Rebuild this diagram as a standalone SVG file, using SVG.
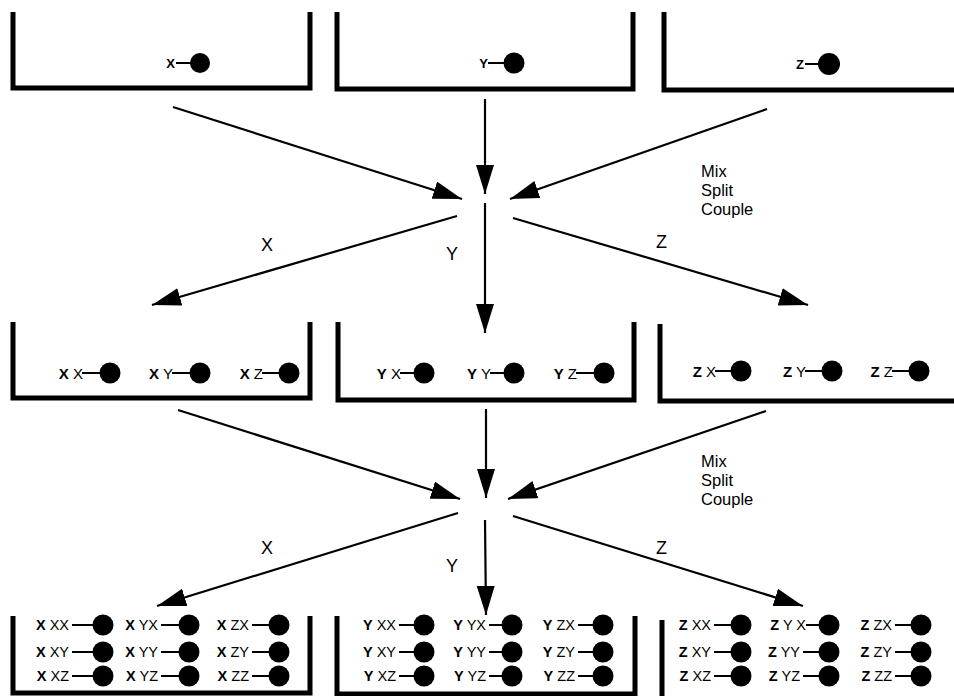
<svg xmlns="http://www.w3.org/2000/svg" width="954" height="696" viewBox="0 0 954 696">
  <defs>
    <marker id="head" markerUnits="userSpaceOnUse" markerWidth="32" markerHeight="20" refX="29" refY="9" orient="auto">
      <path d="M0,0 L29,9 L0,18 z" fill="#000"/>
    </marker>
    <style>
      .wall { fill: none; stroke: #000; stroke-width: 5; stroke-linejoin: miter; }
      .flow { stroke: #000; stroke-width: 2.2; fill: none; marker-end: url(#head); }
      .stem { stroke: #000; stroke-width: 2; }
      .bead { fill: #000; }
      .lbl { font-family: "Liberation Sans", Arial, sans-serif; fill: #000; }
      .t1 { font-size: 13px; font-weight: bold; }
      .t2 { font-size: 15px; }
      .t3 { font-size: 14.5px; }
      .b { font-weight: bold; }
      .step { font-size: 18px; }
      .note { font-size: 16.5px; }
    </style>
  </defs>

  <!-- stage 1: single-monomer pools -->
  <g id="pool-x">
    <path class="wall" d="M13,12 V88 H310 V12"/>
    <text class="lbl t1" x="175" y="68" text-anchor="end">X</text>
    <line class="stem" x1="176" y1="63" x2="192" y2="63"/>
    <circle class="bead" cx="200" cy="63" r="10"/>
  </g>
  <g id="pool-y">
    <path class="wall" d="M337,12 V89 H633 V12"/>
    <text class="lbl t1" x="488" y="68" text-anchor="end">Y</text>
    <line class="stem" x1="488" y1="63" x2="506" y2="63"/>
    <circle class="bead" cx="514" cy="63" r="10.5"/>
  </g>
  <g id="pool-z">
    <path class="wall" d="M664,12 V90 H954"/>
    <text class="lbl t1" x="804" y="69" text-anchor="end">Z</text>
    <line class="stem" x1="805" y1="64" x2="820" y2="64"/>
    <circle class="bead" cx="829" cy="64" r="11"/>
  </g>

  <!-- stage 2: dimers -->
  <g id="pool-xn">
    <path class="wall" d="M13,322 V398 H310 V322"/>
    <text class="lbl t2" x="83" y="378.5" text-anchor="end"><tspan class="b">X</tspan> X</text>
    <line class="stem" x1="82" y1="373" x2="100" y2="373"/>
    <circle class="bead" cx="110" cy="373" r="10.5"/>
    <text class="lbl t2" x="173" y="378.5" text-anchor="end"><tspan class="b">X</tspan> Y</text>
    <line class="stem" x1="172" y1="373" x2="190" y2="373"/>
    <circle class="bead" cx="200" cy="373" r="10.5"/>
    <text class="lbl t2" x="263" y="378.5" text-anchor="end"><tspan class="b">X</tspan> Z</text>
    <line class="stem" x1="262" y1="373" x2="279" y2="373"/>
    <circle class="bead" cx="289" cy="373" r="10.5"/>
  </g>
  <g id="pool-yn">
    <path class="wall" d="M338,322 V400 H634 V322"/>
    <text class="lbl t2" x="401" y="378.5" text-anchor="end"><tspan class="b">Y</tspan> X</text>
    <line class="stem" x1="400" y1="373" x2="414" y2="373"/>
    <circle class="bead" cx="424" cy="373" r="10.5"/>
    <text class="lbl t2" x="491" y="378.5" text-anchor="end"><tspan class="b">Y</tspan> Y</text>
    <line class="stem" x1="490" y1="373" x2="504" y2="373"/>
    <circle class="bead" cx="514" cy="373" r="10.5"/>
    <text class="lbl t2" x="577" y="378.5" text-anchor="end"><tspan class="b">Y</tspan> Z</text>
    <line class="stem" x1="576" y1="373" x2="594" y2="373"/>
    <circle class="bead" cx="604" cy="373" r="10.5"/>
  </g>
  <g id="pool-zn">
    <path class="wall" d="M660,324 V401 H954"/>
    <text class="lbl t2" x="716" y="376.5" text-anchor="end"><tspan class="b">Z</tspan> X</text>
    <line class="stem" x1="715" y1="371" x2="731" y2="371"/>
    <circle class="bead" cx="741" cy="371" r="10.5"/>
    <text class="lbl t2" x="806" y="376.5" text-anchor="end"><tspan class="b">Z</tspan> Y</text>
    <line class="stem" x1="805" y1="371" x2="822" y2="371"/>
    <circle class="bead" cx="832" cy="371" r="10.5"/>
    <text class="lbl t2" x="893" y="376.5" text-anchor="end"><tspan class="b">Z</tspan> Z</text>
    <line class="stem" x1="892" y1="371" x2="909" y2="371"/>
    <circle class="bead" cx="919" cy="371" r="10.5"/>
  </g>

  <!-- stage 3: trimers -->
  <g id="pool-xnn">
    <path class="wall" d="M13,616 V693 H310 V616"/>
    <g class="lbl t3" text-anchor="end">
      <text x="69" y="630"><tspan class="b">X</tspan> XX</text>
      <text x="69" y="657"><tspan class="b">X</tspan> XY</text>
      <text x="69" y="681"><tspan class="b">X</tspan> XZ</text>
      <text x="158" y="630"><tspan class="b">X</tspan> YX</text>
      <text x="158" y="657"><tspan class="b">X</tspan> YY</text>
      <text x="158" y="681"><tspan class="b">X</tspan> YZ</text>
      <text x="249" y="630"><tspan class="b">X</tspan> ZX</text>
      <text x="249" y="657"><tspan class="b">X</tspan> ZY</text>
      <text x="249" y="681"><tspan class="b">X</tspan> ZZ</text>
    </g>
    <path class="stem" d="M72,625 H93 M72,652 H93 M72,676 H93 M161,625 H179 M161,652 H179 M161,676 H179 M252,625 H269 M252,652 H269 M252,676 H269"/>
    <g class="bead">
      <circle cx="103" cy="625" r="10.5"/><circle cx="103" cy="652" r="10.5"/><circle cx="103" cy="676" r="10.5"/>
      <circle cx="189" cy="625" r="10.5"/><circle cx="189" cy="652" r="10.5"/><circle cx="189" cy="676" r="10.5"/>
      <circle cx="279" cy="625" r="10.5"/><circle cx="279" cy="652" r="10.5"/><circle cx="279" cy="676" r="10.5"/>
    </g>
  </g>
  <g id="pool-ynn">
    <path class="wall" d="M337,616 V694 H635 V616"/>
    <g class="lbl t3" text-anchor="end">
      <text x="396" y="630"><tspan class="b">Y</tspan> XX</text>
      <text x="396" y="657"><tspan class="b">Y</tspan> XY</text>
      <text x="396" y="681"><tspan class="b">Y</tspan> XZ</text>
      <text x="486" y="630"><tspan class="b">Y</tspan> YX</text>
      <text x="486" y="657"><tspan class="b">Y</tspan> YY</text>
      <text x="486" y="681"><tspan class="b">Y</tspan> YZ</text>
      <text x="575" y="630"><tspan class="b">Y</tspan> ZX</text>
      <text x="575" y="657"><tspan class="b">Y</tspan> ZY</text>
      <text x="575" y="681"><tspan class="b">Y</tspan> ZZ</text>
    </g>
    <path class="stem" d="M399,625 H414 M399,652 H414 M399,676 H414 M489,625 H502 M489,652 H502 M489,676 H502 M578,625 H593 M578,652 H593 M578,676 H593"/>
    <g class="bead">
      <circle cx="424" cy="625" r="10.5"/><circle cx="424" cy="652" r="10.5"/><circle cx="424" cy="676" r="10.5"/>
      <circle cx="512" cy="625" r="10.5"/><circle cx="512" cy="652" r="10.5"/><circle cx="512" cy="676" r="10.5"/>
      <circle cx="603" cy="625" r="10.5"/><circle cx="603" cy="652" r="10.5"/><circle cx="603" cy="676" r="10.5"/>
    </g>
  </g>
  <g id="pool-znn">
    <path class="wall" d="M662,620 V696"/>
    <g class="lbl t3" text-anchor="end">
      <text x="711" y="630"><tspan class="b">Z</tspan> XX</text>
      <text x="711" y="657"><tspan class="b">Z</tspan> XY</text>
      <text x="711" y="681"><tspan class="b">Z</tspan> XZ</text>
      <text x="806" y="630"><tspan class="b">Z</tspan> Y X</text>
      <text x="800" y="657"><tspan class="b">Z</tspan> YY</text>
      <text x="800" y="681"><tspan class="b">Z</tspan> YZ</text>
      <text x="892" y="630"><tspan class="b">Z</tspan> ZX</text>
      <text x="892" y="657"><tspan class="b">Z</tspan> ZY</text>
      <text x="892" y="681"><tspan class="b">Z</tspan> ZZ</text>
    </g>
    <path class="stem" d="M806,625 H819 M803,652 H819 M803,676 H819 M714,625 H731 M714,652 H731 M714,676 H731 M895,625 H911 M895,652 H911 M895,676 H911"/>
    <g class="bead">
      <circle cx="741" cy="625" r="10.5"/><circle cx="741" cy="652" r="10.5"/><circle cx="741" cy="676" r="10.5"/>
      <circle cx="829" cy="625" r="10.5"/><circle cx="829" cy="652" r="10.5"/><circle cx="829" cy="676" r="10.5"/>
      <circle cx="921" cy="625" r="10.5"/><circle cx="921" cy="652" r="10.5"/><circle cx="921" cy="676" r="10.5"/>
    </g>
  </g>

  <!-- connectors: pooling into the mix point, then splitting back out -->
  <g id="connectors">
    <line class="flow" x1="173" y1="107" x2="462" y2="199"/>
    <line class="flow" x1="485" y1="99" x2="485" y2="194"/>
    <line class="flow" x1="767" y1="109" x2="510" y2="199"/>
    <line class="flow" x1="457" y1="216" x2="152" y2="305"/>
    <line class="flow" x1="485" y1="203" x2="485" y2="333"/>
    <line class="flow" x1="513" y1="218" x2="808" y2="305"/>

    <line class="flow" x1="178" y1="410" x2="460" y2="499"/>
    <line class="flow" x1="486" y1="409" x2="486" y2="498"/>
    <line class="flow" x1="766" y1="411" x2="508" y2="499"/>
    <line class="flow" x1="458" y1="513" x2="157" y2="606"/>
    <line class="flow" x1="485" y1="520" x2="486" y2="615"/>
    <line class="flow" x1="513" y1="516" x2="803" y2="606"/>
  </g>

  <!-- step annotations -->
  <g id="labels" class="lbl">
    <text class="step" x="261" y="251">X</text>
    <text class="step" x="446" y="260">Y</text>
    <text class="step" x="656" y="248">Z</text>
    <text class="note" x="701" y="177">Mix</text>
    <text class="note" x="701" y="196">Split</text>
    <text class="note" x="701" y="215">Couple</text>

    <text class="step" x="261" y="554">X</text>
    <text class="step" x="446" y="572">Y</text>
    <text class="step" x="656" y="554">Z</text>
    <text class="note" x="701" y="467">Mix</text>
    <text class="note" x="701" y="486">Split</text>
    <text class="note" x="701" y="505">Couple</text>
  </g>
</svg>
